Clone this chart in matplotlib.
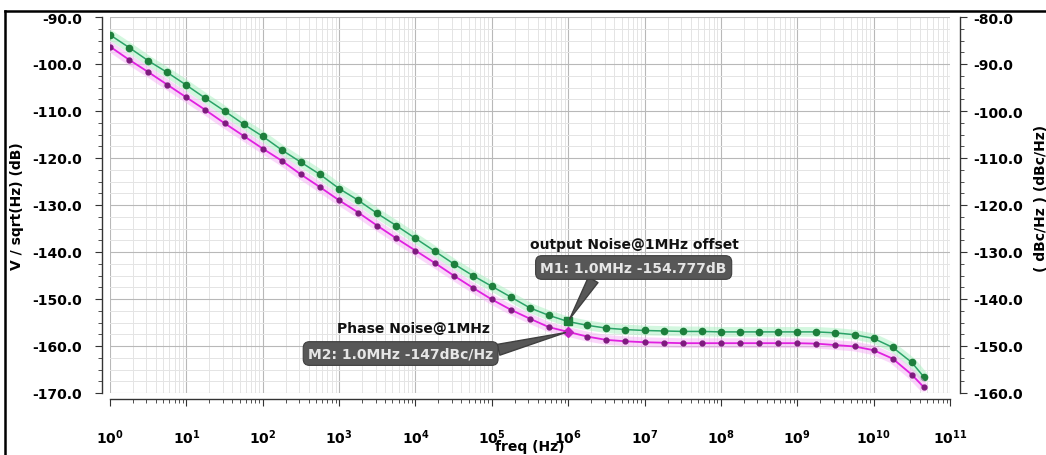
import numpy as np
import matplotlib.pyplot as plt
from matplotlib.lines import Line2D
from matplotlib.ticker import MultipleLocator, LogLocator, NullFormatter

plt.rcParams['font.family'] = ['DejaVu Sans']
plt.rcParams['font.weight'] = 'bold'
plt.rcParams['axes.unicode_minus'] = False
plt.rcParams['mathtext.default'] = 'bf'

# frequency points (Hz), quarter decades
freq = [1, 1.78, 3.16, 5.62,
        10, 17.8, 31.6, 56.2,
        100, 178, 316, 562,
        1e3, 1.78e3, 3.16e3, 5.62e3,
        1e4, 1.78e4, 3.16e4, 5.62e4,
        1e5, 1.78e5, 3.16e5, 5.62e5,
        1e6, 1.78e6, 3.16e6, 5.62e6,
        1e7, 1.78e7, 3.16e7, 5.62e7,
        1e8, 1.78e8, 3.16e8, 5.62e8,
        1e9, 1.78e9, 3.16e9, 5.62e9,
        1e10, 1.78e10, 3.16e10, 4.5e10]

# output noise, V/sqrt(Hz) in dB (left axis)
out_noise = [-93.8, -96.5, -99.3, -101.8,
             -104.5, -107.3, -110.0, -112.8,
             -115.4, -118.3, -120.9, -123.5,
             -126.5, -129.0, -131.8, -134.4,
             -137.1, -139.8, -142.5, -145.0,
             -147.3, -149.6, -151.9, -153.5,
             -154.8, -155.6, -156.2, -156.5,
             -156.7, -156.8, -156.9, -156.9,
             -157.0, -157.0, -157.0, -157.0,
             -157.0, -157.0, -157.2, -157.6,
             -158.4, -160.3, -163.5, -166.5]

# phase noise, dBc/Hz (right axis)
phase_noise = [-86.3, -89.1, -91.7, -94.4,
               -97.1, -99.8, -102.6, -105.3,
               -108.0, -110.6, -113.5, -116.2,
               -119.0, -121.6, -124.4, -127.1,
               -129.7, -132.3, -135.0, -137.6,
               -140.1, -142.3, -144.2, -146.0,
               -147.0, -148.0, -148.7, -149.0,
               -149.2, -149.3, -149.4, -149.4,
               -149.4, -149.4, -149.4, -149.4,
               -149.4, -149.5, -149.8, -150.1,
               -150.9, -152.7, -156.1, -158.7]

m1_f, m1_val = 1e6, -154.777
m2_f, m2_val = 1e6, -147.0

x_exps = [0, 1, 2, 3, 4, 5, 6, 7, 8, 9, 10, 11]
left_ticks = [-90, -100, -110, -120, -130, -140, -150, -160, -170]
right_ticks = [-80, -90, -100, -110, -120, -130, -140, -150, -160]

fig = plt.figure(figsize=(10.46, 4.56), dpi=100)
ax = fig.add_axes([110/1046, 1-394/456, 840/1046, 376/456])
ax2 = ax.twinx()

ax.set_xscale('log')
ax.set_xlim(1, 1e11)
ax.set_ylim(-170, -90)
ax2.set_ylim(-160, -80)

# grid
ax.xaxis.set_minor_locator(LogLocator(base=10, subs=np.arange(2, 10), numticks=100))
ax.xaxis.set_minor_formatter(NullFormatter())
ax.yaxis.set_minor_locator(MultipleLocator(2.5))
ax.grid(True, which='major', color='#b8b8b8', lw=0.8)
ax.grid(True, which='minor', color='#e4e4e4', lw=0.7)
ax.set_axisbelow(True)

# curves with soft halo
ax.plot(freq, out_noise, color='#a8f0c0', lw=7, alpha=0.5, solid_capstyle='round', zorder=2)
ax.plot(freq, out_noise, color='#2aa368', lw=1.1, marker='o', ms=4.5,
        mfc='#1d7f3c', mec='#1d7f3c', zorder=3)
ax2.plot(freq, phase_noise, color='#f6b0f6', lw=7, alpha=0.5, solid_capstyle='round', zorder=2)
ax2.plot(freq, phase_noise, color='#e020e0', lw=1.3, marker='o', ms=3.5,
         mfc='#7e1a7e', mec='#7e1a7e', zorder=3)

ax.plot([m1_f], [m1_val], marker='s', ms=6, color='#1d7f3c', zorder=4)
ax2.plot([m2_f], [m2_val], marker='D', ms=5, color='#c020c0', zorder=4)

# ticks
ax.set_xticks([10.0**e for e in x_exps])
ax.set_xticklabels(['$10^{%d}$' % e for e in x_exps], fontsize=12.5)
ax.set_yticks(left_ticks)
ax.set_yticklabels(['%.1f' % v for v in left_ticks], fontsize=10)
ax2.set_yticks(right_ticks)
ax2.set_yticklabels(['%.1f' % v for v in right_ticks], fontsize=10)
ax2.yaxis.set_minor_locator(MultipleLocator(2.5))

ax.tick_params(axis='x', which='major', length=5, pad=16, color='#333333')
ax.tick_params(axis='x', which='minor', length=3, color='#333333')
ax.tick_params(axis='y', which='major', length=5, pad=9, color='#333333')
ax.tick_params(axis='y', which='minor', length=3, color='#333333')
ax2.tick_params(axis='y', which='major', length=5, pad=5, color='#333333')
ax2.tick_params(axis='y', which='minor', length=3, color='#333333')

for a in (ax, ax2):
    a.spines['top'].set_visible(False)
ax.spines['right'].set_visible(False)
ax2.spines['left'].set_visible(False)
ax2.spines['bottom'].set_visible(False)
ax.spines['left'].set_position(('outward', 6))
ax.spines['bottom'].set_position(('outward', 4))
ax2.spines['right'].set_position(('outward', 7))
for s in (ax.spines['left'], ax.spines['bottom'], ax2.spines['right']):
    s.set_color('#333333')
    s.set_linewidth(1.0)

ax.set_xlabel('freq (Hz)', fontsize=10, fontweight='bold')
ax.xaxis.set_label_coords(0.5, -0.122)
ax.set_ylabel('V / sqrt(Hz) (dB)', fontsize=10, fontweight='bold')
ax.yaxis.set_label_coords(-0.102, 0.5)
ax2.set_ylabel('( dBc/Hz ) (dBc/Hz)', fontsize=10, fontweight='bold')
ax2.yaxis.set_label_coords(1.1, 0.52)

# marker annotations
box = dict(boxstyle='round,pad=0.35,rounding_size=0.45', fc='#575757', ec='#3f3f3f', lw=0.8)
ax.annotate('M1: 1.0MHz -154.777dB', xy=(m1_f, m1_val), xytext=(7.2e6, -143.3),
            ha='center', va='center', fontsize=10, color='#e6e6e6', bbox=box,
            arrowprops=dict(arrowstyle='wedge,tail_width=0.8,shrink_factor=0.5',
                            fc='#575757', ec='#3f3f3f', relpos=(0.3, 0.0),
                            shrinkA=0, shrinkB=2), zorder=6)
ax.text(7.4e6, -138.2, 'output Noise@1MHz offset', ha='center', va='center',
        fontsize=10, fontweight='bold', color='#111111', zorder=6)

ax2.annotate('M2: 1.0MHz -147dBc/Hz', xy=(m2_f, m2_val), xytext=(6.4e3, -151.6),
             ha='center', va='center', fontsize=10, color='#e6e6e6', bbox=box,
             arrowprops=dict(arrowstyle='wedge,tail_width=0.8,shrink_factor=0.5',
                             fc='#575757', ec='#3f3f3f', relpos=(0.95, 0.5),
                             shrinkA=0, shrinkB=2), zorder=6)
ax2.text(9.5e3, -146.1, 'Phase Noise@1MHz', ha='center', va='center',
         fontsize=10, fontweight='bold', color='#111111', zorder=6)

# screenshot frame (top and left edges)
fig.add_artist(Line2D([5/1046, 1], [1-12/456, 1-12/456], transform=fig.transFigure, color='k', lw=1.8))
fig.add_artist(Line2D([5/1046, 5/1046], [0, 1-12/456], transform=fig.transFigure, color='k', lw=1.8))

fig.savefig('out.png', dpi=100)
